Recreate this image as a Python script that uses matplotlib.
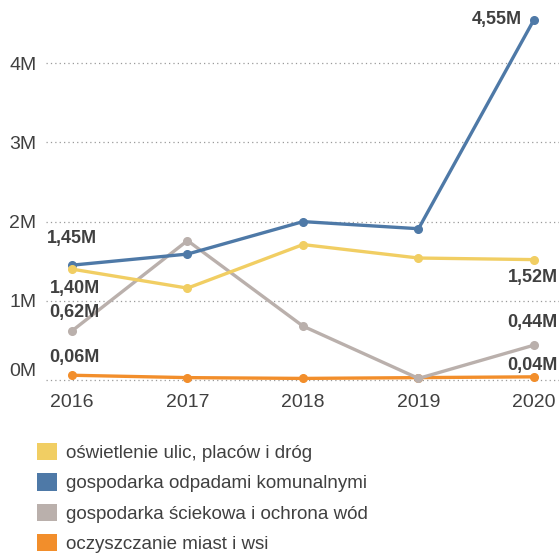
"""Line chart: municipal spending by category, 2016-2020."""

import matplotlib.pyplot as plt
import matplotlib.transforms as mtransforms
from matplotlib.patches import Patch

plt.rcParams["font.family"] = ["Liberation Sans", "DejaVu Sans"]

years = [2016, 2017, 2018, 2019, 2020]
oswietlenie = [1.40, 1.16, 1.71, 1.54, 1.52]
odpady = [1.45, 1.59, 2.00, 1.91, 4.55]
scieki = [0.62, 1.76, 0.68, 0.02, 0.44]
oczyszczanie = [0.06, 0.03, 0.02, 0.03, 0.04]

names = [
    "oświetlenie ulic, placów i dróg",
    "gospodarka odpadami komunalnymi",
    "gospodarka ściekowa i ochrona wód",
    "oczyszczanie miast i wsi",
]
colors = ["#F1CE63", "#4E79A7", "#BAB0AC", "#F28E2B"]
series = [oswietlenie, odpady, scieki, oczyszczanie]
y_ticks = [0, 1, 2, 3, 4]
y_tick_labels = ["0M", "1M", "2M", "3M", "4M"]

TXT = "#404040"

fig = plt.figure(figsize=(5.59, 5.54), dpi=100)
ax = fig.add_axes([46 / 559, (554 - 390) / 554, 513 / 559, 380 / 554])

# draw in reverse so yellow/blue sit on top
for vals, col in reversed(list(zip(series, colors))):
    ax.plot(years, vals, color=col, lw=2.4, marker="o", ms=5.5, zorder=3,
            solid_capstyle="round")

ax.set_xlim(2016 - 26 / 115.5, 2020 + 25 / 115.5)
ax.set_ylim(-(390 - 380) / 79.2, (380 - 10) / 79.2)
ax.set_yticks(y_ticks)
ax.set_yticklabels(y_tick_labels)
ax.set_xticks(years)
ax.set_xticklabels([str(y) for y in years])
ax.tick_params(axis="both", length=0, labelsize=14, colors=TXT)
ax.tick_params(axis="y", pad=7)
ax.tick_params(axis="x", pad=3)

# keep the 0M label inside the plot like the original
lab0 = ax.get_yticklabels()[0]
lab0.set_transform(lab0.get_transform()
                   + mtransforms.ScaledTranslation(0, 11 / 100, fig.dpi_scale_trans))

ax.grid(axis="y", color="#9a9a9a", linestyle=(0, (1, 2.5)), lw=0.9)
ax.set_axisbelow(True)
for s in ax.spines.values():
    s.set_visible(False)

lab_kw = dict(fontsize=13, fontweight="bold", color=TXT, va="center")
first, last = years[0], years[-1]
ax.annotate("1,45M", (first, odpady[0]), xytext=(0, 19), textcoords="offset points", ha="center", **lab_kw)
ax.annotate("1,40M", (first, oswietlenie[0]), xytext=(2, -14), textcoords="offset points", ha="center", **lab_kw)
ax.annotate("0,62M", (first, scieki[0]), xytext=(2, 13), textcoords="offset points", ha="center", **lab_kw)
ax.annotate("0,06M", (first, oczyszczanie[0]), xytext=(2, 13), textcoords="offset points", ha="center", **lab_kw)
ax.annotate("4,55M", (last, odpady[-1]), xytext=(-9, 0), textcoords="offset points", ha="right", **lab_kw)
ax.annotate("1,52M", (last, oswietlenie[-1]), xytext=(-1, -13), textcoords="offset points", ha="center", **lab_kw)
ax.annotate("0,44M", (last, scieki[-1]), xytext=(-1, 16), textcoords="offset points", ha="center", **lab_kw)
ax.annotate("0,04M", (last, oczyszczanie[-1]), xytext=(-1, 8), textcoords="offset points", ha="center", **lab_kw)

handles = [Patch(facecolor=c, edgecolor="none") for c in colors]
fig.legend(handles, names, loc="upper left", bbox_to_anchor=(37 / 559, 1 - 443 / 554),
           frameon=False, fontsize=13.5, labelcolor=TXT, handlelength=1.05, handleheight=1.05,
           handletextpad=0.5, labelspacing=0.6, borderaxespad=0, borderpad=0)

fig.savefig("out.png", dpi=100)
